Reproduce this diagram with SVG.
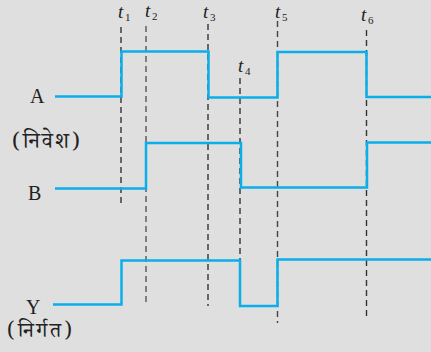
<svg xmlns="http://www.w3.org/2000/svg" width="431" height="352" viewBox="0 0 431 352">
<style>
.wave{fill:none;stroke:#0aaeea;stroke-width:2.5;stroke-linejoin:miter}
.dash{fill:none;stroke:#333;stroke-width:1.4;stroke-dasharray:6 4}
.lbl{font-family:"Liberation Serif","Times New Roman",serif;font-size:20px;fill:#222}
.hin{font-family:"Noto Serif Devanagari","Noto Sans Devanagari","Lohit Devanagari","Liberation Serif",serif;font-size:22px;fill:#222}
.t{font-family:"Liberation Serif","Times New Roman",serif;font-style:italic;font-size:19px;fill:#222}
.sub{font-family:"Liberation Serif","Times New Roman",serif;font-size:11px;fill:#222}
</style>
<rect width="431" height="352" fill="#dfdfdf"/>
<g id="connectors">
<g id="time-markers">
<line class="dash" x1="121" y1="27" x2="121" y2="204"/>
<line class="dash" x1="146" y1="26" x2="146" y2="304" style="stroke:#555"/>
<line class="dash" x1="208" y1="24" x2="208" y2="306"/>
<line class="dash" x1="240" y1="78" x2="240" y2="262"/>
<line class="dash" x1="277.5" y1="21" x2="277.5" y2="323" style="stroke:#444"/>
<line class="dash" x1="366.5" y1="30" x2="366.5" y2="318"/>
</g>
<g id="waveforms">
<polyline id="wave-A" class="wave" points="55,96.5 121.5,96.5 121.5,51.5 208.5,51.5 208.5,97.5 277.5,97.5 277.5,52 366.5,52 366.5,97 431,97"/>
<polyline id="wave-B" class="wave" points="55,188.5 146,188.5 146,143 241,143 241,187.5 367,187.5 367,142.5 431,142.5"/>
<polyline id="wave-Y" class="wave" points="53,304.5 121.5,304.5 121.5,260.5 240,260.5 240,306 277.5,306 277.5,259.5 431,259.5"/>
</g>
</g>
<g id="node-A"><text class="lbl" x="30" y="103">A</text></g>
<g id="node-input"><text class="hin" x="12" y="148" textLength="68" lengthAdjust="spacing">(निवेश)</text></g>
<g id="node-B"><text class="lbl" x="28" y="200">B</text></g>
<g id="node-Y"><text class="lbl" x="26" y="314">Y</text></g>
<g id="node-output"><text class="hin" x="7" y="337" textLength="65" lengthAdjust="spacing" style="font-size:21px">(निर्गत)</text></g>
<g id="label-t1"><text class="t" x="118" y="18">t</text><text class="sub" x="125" y="21">1</text></g>
<g id="label-t2"><text class="t" x="145" y="17">t</text><text class="sub" x="152" y="20">2</text></g>
<g id="label-t3"><text class="t" x="203" y="18">t</text><text class="sub" x="210" y="21">3</text></g>
<g id="label-t4"><text class="t" x="238" y="72">t</text><text class="sub" x="245" y="75">4</text></g>
<g id="label-t5"><text class="t" x="275" y="18">t</text><text class="sub" x="282" y="21">5</text></g>
<g id="label-t6"><text class="t" x="361" y="21">t</text><text class="sub" x="368" y="24">6</text></g>
</svg>
